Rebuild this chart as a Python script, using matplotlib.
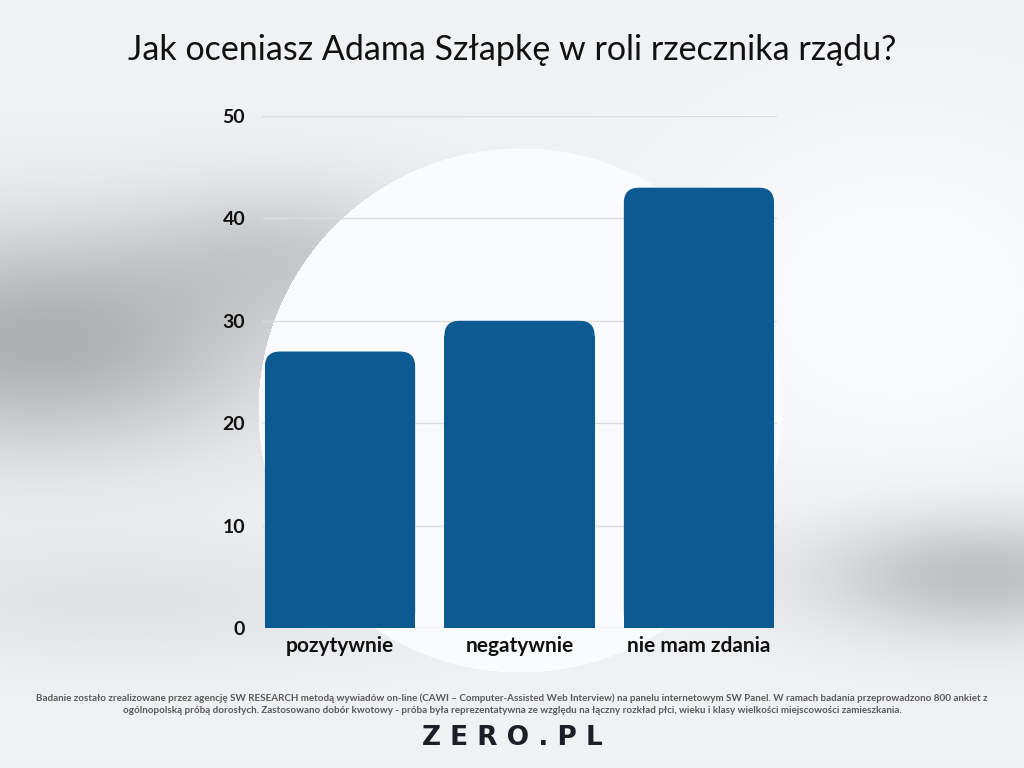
import matplotlib.pyplot as plt
import numpy as np
from matplotlib.patches import FancyBboxPatch

# data
categories = ["pozytywnie", "negatywnie", "nie mam zdania"]
values = [27, 30, 43]
yticks = [0, 10, 20, 30, 40, 50]

title = "Jak oceniasz Adama Szłapkę w roli rzecznika rządu?"
footnote = ("Badanie zostało zrealizowane przez agencję SW RESEARCH metodą wywiadów on-line (CAWI – Computer-Assisted Web Interview) na panelu internetowym SW Panel. W ramach badania przeprowadzono 800 ankiet z\n"
            "ogólnopolską próbą dorosłych. Zastosowano dobór kwotowy - próba była reprezentatywna ze względu na łączny rozkład płci, wieku i klasy wielkości miejscowości zamieszkania.")

bar_color = "#0b5a92"
W, H = 1024, 768

plt.rcParams['font.family'] = ['Lato', 'DejaVu Sans']
fig = plt.figure(figsize=(W / 100, H / 100), dpi=100)

# background: light grey with darker hazy streaks and a white disc behind the chart
yy, xx = np.mgrid[0:H, 0:W].astype(float)
bg = np.full((H, W), 0.955)
bg -= 0.26 * np.exp(-(((xx - 40) / 240) ** 2 + ((yy - 340) / 110) ** 2))
bg -= 0.12 * np.exp(-(((xx - 300) / 160) ** 2 + ((yy - 250) / 70) ** 2))
bg -= 0.20 * np.exp(-(((xx - 980) / 170) ** 2 + ((yy - 575) / 60) ** 2))
bg -= 0.06 * np.exp(-(((xx - 120) / 300) ** 2 + ((yy - 600) / 60) ** 2))
bg += 0.04 * np.exp(-(((xx - 900) / 250) ** 2 + ((yy - 300) / 200) ** 2))
disc = np.hypot(xx - 520, yy - 410) < 262
bg = np.where(disc, 0.995, bg)
bg = np.clip(bg, 0, 1)
rgb = np.dstack([bg * 0.985, bg * 0.99, bg])
bax = fig.add_axes([0, 0, 1, 1], zorder=-1)
bax.imshow(rgb, extent=[0, W, H, 0], aspect='auto')
bax.axis('off')

ax = fig.add_axes([262 / W, (H - 628) / H, 515 / W, 512 / H])
ax.set_facecolor('none')

x = np.arange(len(categories))
bw = 0.837
r_px = 15
px_x = 515 / (len(categories) - 1 + 0.87)   # pixels per x unit
px_y = 512 / 50
r_x = r_px / px_x
r_y = r_px / px_y

# square lower part + rounded full bar on top
bars = ax.bar(x, [v - r_y for v in values], width=bw, color=bar_color, zorder=3)
for xi, v in zip(x, values):
    p = FancyBboxPatch((xi - bw / 2, 0), bw, v,
                       boxstyle=f"round,pad=0,rounding_size={r_x}",
                       mutation_aspect=r_y / r_x,
                       facecolor=bar_color, edgecolor='none', zorder=3)
    ax.add_patch(p)

ax.set_xlim(-0.435, 2.435)
ax.set_ylim(0, 50)
ax.set_yticks(yticks)
ax.set_xticks(x)
ax.set_xticklabels(categories, fontsize=15, fontweight='bold', color='#111111')
ax.tick_params(axis='y', labelsize=14, length=0, pad=12, labelcolor='#111111')
ax.tick_params(axis='x', length=0, pad=6)
for lbl in ax.get_yticklabels():
    lbl.set_fontweight('bold')
ax.grid(axis='y', color='#dcdcdc', linewidth=1, zorder=0)
for s in ax.spines.values():
    s.set_visible(False)
ax.set_axisbelow(True)

fig.text(0.5, 1 - 50 / H, title, ha='center', va='center', fontsize=24.5, color='#111111')
fig.text(0.5, 1 - 704 / H, footnote, ha='center', va='center', fontsize=7.1,
         fontweight='bold', color='#5a5a5a', linespacing=1.4)
fig.text(0.5, 1 - 738 / H, "Z E R O . P L", ha='center', va='center', fontsize=19,
         fontweight='bold', color='#1c1f26', family=['DejaVu Sans'])

fig.savefig("out.png", dpi=100)
